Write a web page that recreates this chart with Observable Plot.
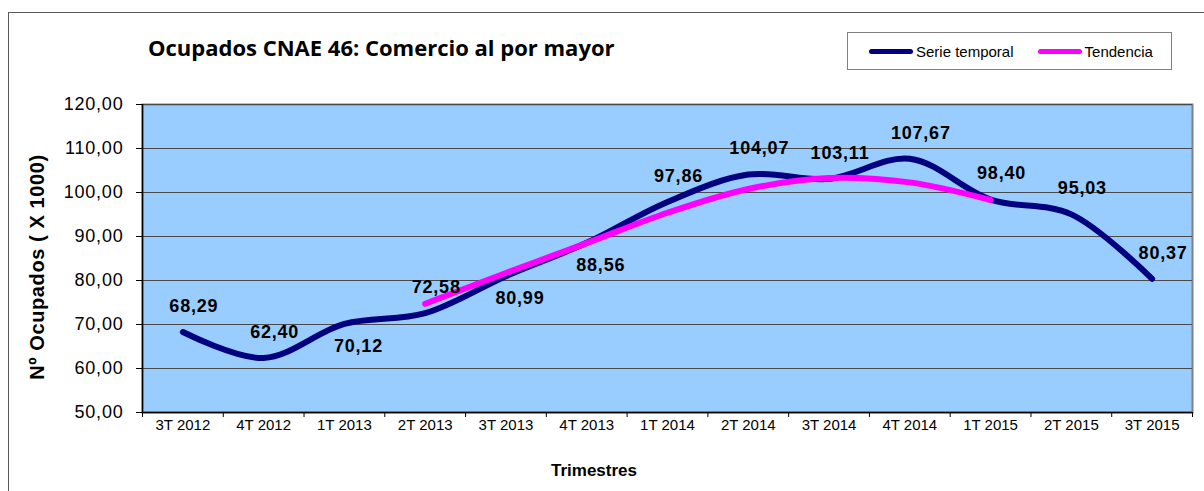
<!DOCTYPE html>
<html><head><meta charset="utf-8">
<script src="https://cdn.jsdelivr.net/npm/d3@7"></script>
<script src="https://cdn.jsdelivr.net/npm/@observablehq/plot@0.6"></script>
<style>
body{margin:0;overflow:hidden;background:#fff;}
#wrap{position:relative;width:1204px;height:491px;overflow:hidden;font-family:"Liberation Sans",Arial,sans-serif;color:#000;}
#frame{position:absolute;left:8px;top:12px;width:1400px;height:600px;border:1px solid #5a5a5a;}
#title{position:absolute;left:148px;top:32px;font-family:"Open Sans",Lato,sans-serif;font-weight:bold;font-size:22px;white-space:nowrap;}
#legend{position:absolute;left:847px;top:32px;width:325px;height:38px;border:1px solid #808080;box-sizing:border-box;display:flex;align-items:center;font-size:15px;}
.sw{display:inline-block;width:44px;height:5px;border-radius:3px;margin-right:3px;}
.item{display:flex;align-items:center;white-space:nowrap;}
#ytitle{position:absolute;left:37px;top:267px;transform:translate(-50%,-50%) rotate(-90deg);font-weight:bold;font-size:20px;letter-spacing:0.6px;white-space:nowrap;}
#xtitle{position:absolute;left:594px;top:471px;transform:translate(-50%,-50%);font-weight:bold;font-size:17px;white-space:nowrap;}
#chart{position:absolute;left:0;top:0;}
#chart g[aria-label="text"] text{letter-spacing:0.8px;}
#chart g[aria-label="y-axis tick label"] text{letter-spacing:0.8px;}
</style>
</head><body>
<div id="wrap">
  <div id="frame"></div>
  <div id="chart"></div>
  <div id="title">Ocupados CNAE 46: Comercio al por mayor</div>
  <div id="legend"></div>
  <div id="ytitle"></div>
  <div id="xtitle"></div>
</div>
<script>
const categories = ["3T 2012","4T 2012","1T 2013","2T 2013","3T 2013","4T 2013","1T 2014","2T 2014","3T 2014","4T 2014","1T 2015","2T 2015","3T 2015"];
const serieTemporal = [68.29, 62.40, 70.12, 72.58, 80.99, 88.56, 97.86, 104.07, 103.11, 107.67, 98.40, 95.03, 80.37];
const tendencia = [null, null, null, 74.7, 81.7, 88.5, 95.4, 100.8, 103.3, 102.3, 98.3, null, null];
const labelPlacement = ["above","above","below","above","below","below","above","above","above","above","above","above","above"];
const yTicks = [50, 60, 70, 80, 90, 100, 110, 120];
const seriesNames = ["Serie temporal", "Tendencia"];
const seriesColors = ["#000080", "#FF00FF"];
const yTitle = "Nº Ocupados ( X 1000)";
const xTitle = "Trimestres";

const fmt = v => v.toFixed(2).replace(".", ",");
const rows = categories.map((c, i) => ({i, c, serie: serieTemporal[i], tend: tendencia[i], place: labelPlacement[i]}));

document.getElementById("ytitle").textContent = yTitle;
document.getElementById("xtitle").textContent = xTitle;
const legend = document.getElementById("legend");
seriesNames.forEach((n, k) => {
  const it = document.createElement("div");
  it.className = "item";
  it.style.marginLeft = k === 0 ? "21px" : "24px";
  it.innerHTML = `<span class="sw" style="background:${seriesColors[k]}"></span><span>${n}</span>`;
  legend.appendChild(it);
});

const chart = Plot.plot({
  width: 1204, height: 491,
  marginLeft: 142, marginRight: 12, marginTop: 104, marginBottom: 79,
  style: {fontFamily: "'Liberation Sans', Arial, sans-serif", background: "transparent", color: "#000"},
  x: {domain: [-0.5, categories.length - 0.5]},
  y: {domain: [50, 120]},
  marks: [
    Plot.frame({fill: "#99CCFF", stroke: "#808080", strokeWidth: 2}),
    Plot.gridY(yTicks, {stroke: "#4a4a4a", strokeOpacity: 1, strokeWidth: 1}),
    Plot.ruleX([-0.5], {stroke: "#000", strokeWidth: 1.5}),
    Plot.ruleY([50], {stroke: "#000", strokeWidth: 1.5}),
    Plot.axisY(yTicks, {tickSize: 6, tickPadding: 13, tickFormat: fmt, fontSize: 18, label: null}),
    Plot.axisX(d3.range(categories.length), {tickSize: 0, tickPadding: 7, tickFormat: i => categories[i], fontSize: 15, label: null}),
    Plot.axisX(d3.range(categories.length + 1).map(i => i - 0.5), {tickSize: 5, tickFormat: () => "", label: null}),
    Plot.line(rows, {x: "i", y: "serie", stroke: seriesColors[0], strokeWidth: 6, curve: "catmull-rom", strokeLinecap: "round"}),
    Plot.line(rows.filter(d => d.tend != null), {x: "i", y: "tend", stroke: seriesColors[1], strokeWidth: 6, curve: "catmull-rom", strokeLinecap: "round"}),
    Plot.text(rows.filter(d => d.place === "above"), {x: "i", y: "serie", text: d => fmt(d.serie), dx: 11, dy: -26, fontSize: 18, fontWeight: "bold", fill: "#000"}),
    Plot.text(rows.filter(d => d.place === "below"), {x: "i", y: "serie", text: d => fmt(d.serie), dx: 14, dy: 22, fontSize: 18, fontWeight: "bold", fill: "#000"})
  ]
});
document.getElementById("chart").appendChild(chart);
</script>
</body></html>
